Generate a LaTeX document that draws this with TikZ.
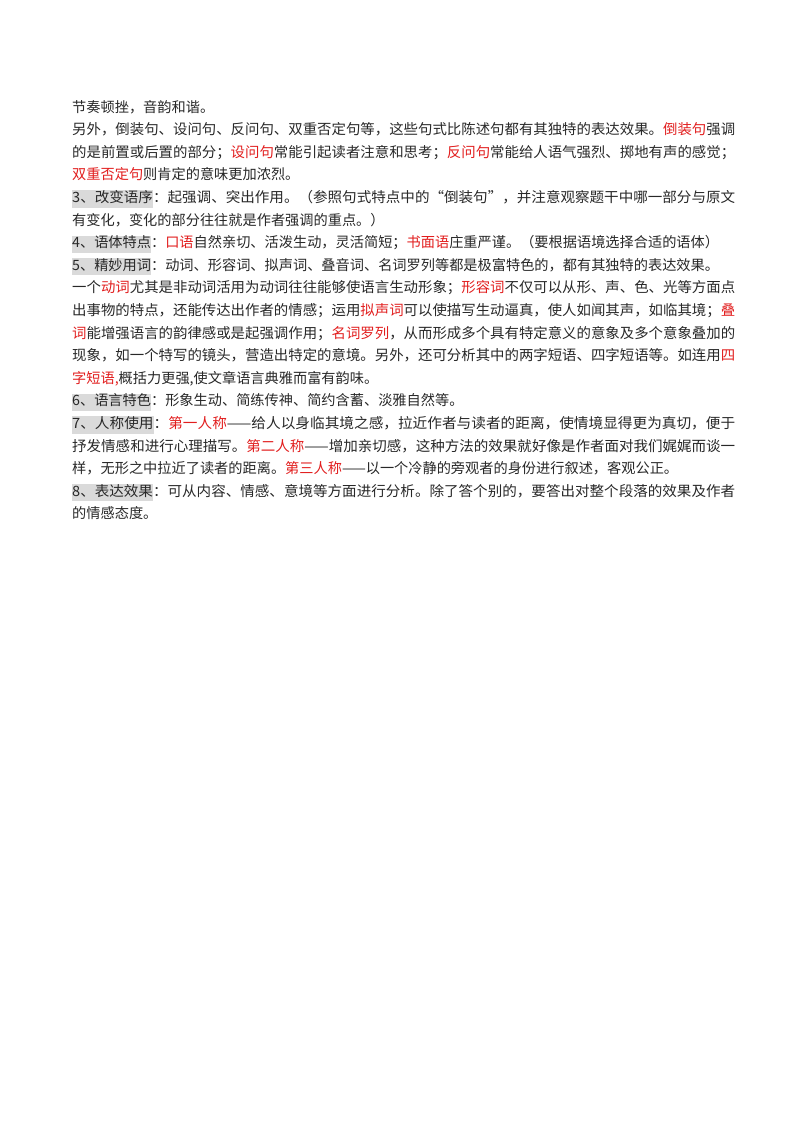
\documentclass[tikz,border=0pt]{standalone}
\usepackage{fontspec}
\usepackage{graphicx}
\setmainfont{Noto Sans CJK SC}
\definecolor{hl}{RGB}{226,30,30}
\definecolor{hg}{RGB}{218,218,218}
\definecolor{tx}{RGB}{40,40,40}
\newcommand{\R}[1]{\textcolor{hl}{#1}}
\newcommand{\HG}[1]{{\setlength{\fboxsep}{0pt}\colorbox{hg}{\strut #1}}}
\newcommand{\FL}[1]{\resizebox{663pt}{\height}{#1}}
\begin{document}
\begin{tikzpicture}[x=1pt,y=-1pt,
  ln/.style={anchor=base west,inner sep=0pt,text=tx,font=\fontsize{14.2}{17}\selectfont}]
\useasboundingbox[fill=white] (0,0) rectangle (800,1132);
\def\yy#1{112+22.6*#1}
\node[ln] (l0) at (72,{\yy{0}}) {节奏顿挫，音韵和谐。};
\node[ln] (l1) at (72,{\yy{1}}) {\FL{另外，倒装句、设问句、反问句、双重否定句等，这些句式比陈述句都有其独特的表达效果。\R{倒装句}强调}};
\node[ln] (l2) at (72,{\yy{2}}) {\FL{的是前置或后置的部分；\R{设问句}常能引起读者注意和思考；\R{反问句}常能给人语气强烈、掷地有声的感觉；}};
\node[ln] (l3) at (72,{\yy{3}}) {\R{双重否定句}则肯定的意味更加浓烈。};
\node[ln] (l4) at (72,{\yy{4}}) {\FL{\HG{3、改变语序}：起强调、突出作用。（参照句式特点中的“倒装句”，并注意观察题干中哪一部分与原文}};
\node[ln] (l5) at (72,{\yy{5}}) {有变化，变化的部分往往就是作者强调的重点。）};
\node[ln] (l6) at (72,{\yy{6}}) {\HG{4、语体特点}：\R{口语}自然亲切、活泼生动，灵活简短；\R{书面语}庄重严谨。（要根据语境选择合适的语体）};
\node[ln] (l7) at (72,{\yy{7}}) {\HG{5、精妙用词}：动词、形容词、拟声词、叠音词、名词罗列等都是极富特色的，都有其独特的表达效果。};
\node[ln] (l8) at (72,{\yy{8}}) {\FL{一个\R{动词}尤其是非动词活用为动词往往能够使语言生动形象；\R{形容词}不仅可以从形、声、色、光等方面点}};
\node[ln] (l9) at (72,{\yy{9}}) {\FL{出事物的特点，还能传达出作者的情感；运用\R{拟声词}可以使描写生动逼真，使人如闻其声，如临其境；\R{叠}}};
\node[ln] (l10) at (72,{\yy{10}}) {\FL{\R{词}能增强语言的韵律感或是起强调作用；\R{名词罗列}，从而形成多个具有特定意义的意象及多个意象叠加的}};
\node[ln] (l11) at (72,{\yy{11}}) {\FL{现象，如一个特写的镜头，营造出特定的意境。另外，还可分析其中的两字短语、四字短语等。如连用\R{四}}};
\node[ln] (l12) at (72,{\yy{12}}) {\R{字短语,}概括力更强,使文章语言典雅而富有韵味。};
\node[ln] (l13) at (72,{\yy{13}}) {\HG{6、语言特色}：形象生动、简练传神、简约含蓄、淡雅自然等。};
\node[ln] (l14) at (72,{\yy{14}}) {\FL{\HG{7、人称使用}：\R{第一人称}——给人以身临其境之感，拉近作者与读者的距离，使情境显得更为真切，便于}};
\node[ln] (l15) at (72,{\yy{15}}) {\FL{抒发情感和进行心理描写。\R{第二人称}——增加亲切感，这种方法的效果就好像是作者面对我们娓娓而谈一}};
\node[ln] (l16) at (72,{\yy{16}}) {样，无形之中拉近了读者的距离。\R{第三人称}——以一个冷静的旁观者的身份进行叙述，客观公正。};
\node[ln] (l17) at (72,{\yy{17}}) {\FL{\HG{8、表达效果}：可从内容、情感、意境等方面进行分析。除了答个别的，要答出对整个段落的效果及作者}};
\node[ln] (l18) at (72,{\yy{18}}) {的情感态度。};
\end{tikzpicture}
\end{document}
